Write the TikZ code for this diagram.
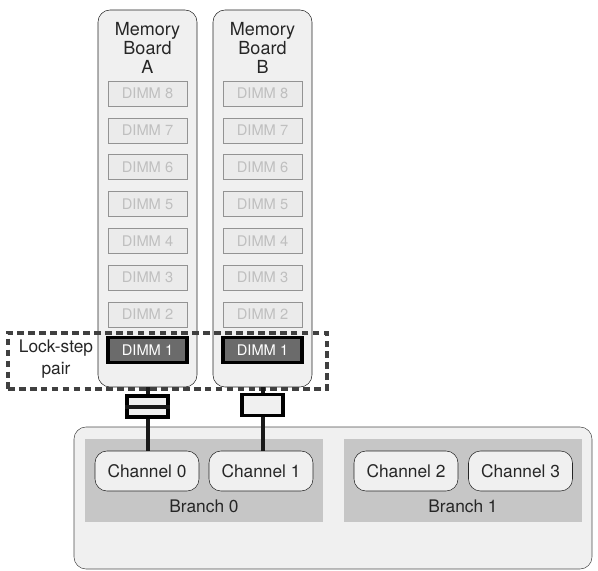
\documentclass[tikz,border=0pt]{standalone}
\usepackage{fontspec}
\setmainfont{TeX Gyre Heros}
\usetikzlibrary{positioning}

\begin{document}
\begin{tikzpicture}[x=0.75pt, y=-0.75pt,
    board/.style={rectangle, rounded corners=9pt, draw=black!85, fill=gray!12,
      minimum width=74.25pt, minimum height=282.75pt},
    dimm/.style={rectangle, draw=gray!85, fill=gray!16, text=gray!50,
      minimum width=59.25pt, minimum height=18.75pt, font=\fontsize{11}{13}\selectfont},
    lead/.style={dimm, draw=black, line width=2.4pt, fill=black!58, text=white},
    pairbox/.style={rectangle, draw=black, line width=2.5pt, fill=gray!12,
      minimum width=30.75pt, minimum height=15.75pt},
    chan/.style={rectangle, rounded corners=9pt, draw=black!85, fill=gray!12,
      minimum width=78pt, minimum height=30pt, text=black!85},
    branch/.style={rectangle, fill=gray!45, minimum width=178.5pt, minimum height=62.25pt},
    link/.style={line width=3pt, black!90},
    font=\fontsize{13}{15}\selectfont
]
\useasboundingbox (0,0) rectangle (598,570);

% memory boards
\node[board] (boardA) at (147.5,198.5) {};
\node[board] (boardB) at (262.5,198.5) {};
\node[align=center, text=black!85, font=\fontsize{13.5}{14.5}\selectfont] (titleA) at (147.5,48) {Memory\\Board\\A};
\node[align=center, text=black!85, font=\fontsize{13.5}{14.5}\selectfont] (titleB) at (262.5,48) {Memory\\Board\\B};
\foreach \k in {2,...,8} {
  \node[dimm] (a\k) at (147.5,{93.5+(8-\k)*36.8}) {DIMM \k};
  \node[dimm] (b\k) at (262.5,{93.5+(8-\k)*36.8}) {DIMM \k};
}
\node[lead] (a1) at (147.5,350) {DIMM 1};
\node[lead] (b1) at (262.5,350) {DIMM 1};

% lock-step pair
\node[rectangle, draw=black!75, line width=2.4pt, dash pattern=on 5pt off 3.2pt,
  minimum width=239.25pt, minimum height=42pt] (lock) at (167.5,361) {};
\node[align=center, text=black!85, font=\fontsize{13}{16}\selectfont] (locktxt) at (56,359) {Lock-step\\pair};

% memory controller
\node[rectangle, rounded corners=9pt, draw=black!70, fill=gray!12,
  minimum width=388.5pt, minimum height=106.5pt] (mc) at (333,498) {};
\node[branch] (br0) at (204,480.5) {};
\node[branch] (br1) at (463,480.5) {};
\node[text=black!85] (br0txt) at (204,506) {Branch 0};
\node[text=black!85] (br1txt) at (463,506) {Branch 1};
\node[chan] (ch0) at (147,471) {Channel 0};
\node[chan] (ch1) at (261,471) {Channel 1};
\node[chan] (ch2) at (406,471) {Channel 2};
\node[chan] (ch3) at (520.5,471) {Channel 3};

% connectors
\node[pairbox] (pa) at (147.5,406.5) {};
\node[pairbox] (pb) at (262.5,405) {};
\draw[link] (pa.west) -- (pa.east);
\draw[link] (boardA.south) -- (pa.north);
\draw[link] (boardB.south) -- (pb.north);
\draw[link] (pa.south) -- (pa.south |- ch0.north);
\draw[link] (pb.south) -- (pb.south |- ch1.north);
\end{tikzpicture}
\end{document}
